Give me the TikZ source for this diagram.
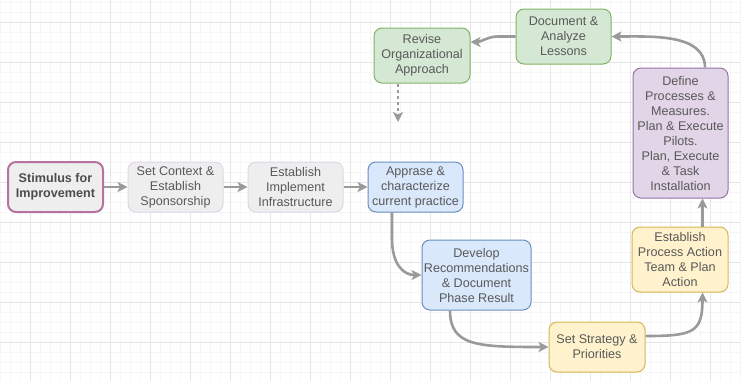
\documentclass[tikz,border=0pt]{standalone}
\usepackage{fontspec}
\setmainfont{Liberation Sans}
\usetikzlibrary{arrows.meta}
\definecolor{gridminor}{HTML}{F6F6F6}
\definecolor{gridmajor}{HTML}{E6E6E6}
\definecolor{txt}{HTML}{595959}
\definecolor{flowgray}{HTML}{9A9A9A}
\definecolor{greyfill}{HTML}{EEEEEE}
\definecolor{lavline}{HTML}{E1D5E7}
\definecolor{plumline}{HTML}{B5739D}
\definecolor{bluefill}{HTML}{DAE8FC}
\definecolor{blueline}{HTML}{6C8EBF}
\definecolor{yellowfill}{HTML}{FFF2CC}
\definecolor{yellowline}{HTML}{D6B656}
\definecolor{greenfill}{HTML}{D5E8D4}
\definecolor{greenline}{HTML}{82B366}
\definecolor{purplefill}{HTML}{E1D5E7}
\definecolor{purpleline}{HTML}{9673A6}
\tikzset{
  box/.style={rectangle, rounded corners=8pt, draw, line width=1pt, inner sep=0pt,
    align=center, text=txt, font=\fontsize{12.6}{15}\selectfont},
  greybox/.style={box, fill=greyfill, draw=lavline},
  startbox/.style={box, fill=greyfill, draw=plumline, line width=2pt,
    font=\fontsize{12.6}{15}\selectfont\bfseries, text=black!70},
  bluebox/.style={box, fill=bluefill, draw=blueline},
  yellowbox/.style={box, fill=yellowfill, draw=yellowline},
  greenbox/.style={box, fill=greenfill, draw=greenline},
  purplebox/.style={box, fill=purplefill, draw=purpleline},
  flow/.style={draw=flowgray, line width=2.6pt,
    -{Stealth[length=10pt, width=10pt, inset=2.5pt]}},
  dotflow/.style={flow, dash pattern=on 3pt off 3pt}
}
\begin{document}
\begin{tikzpicture}[x=1pt, y=-1pt]
  % canvas and grid
  \fill[white] (0,0) rectangle (741,381);
  \useasboundingbox (0,0) rectangle (741,381);
  \foreach \gx in {0,10,...,740} \draw[gridminor, line width=0.8pt] (\gx,0) -- (\gx,381);
  \foreach \gy in {2.5,12.5,...,381} \draw[gridminor, line width=0.8pt] (0,\gy) -- (741,\gy);
  \foreach \gx in {30,70,...,740} \draw[gridmajor, line width=1pt] (\gx,0) -- (\gx,381);
  \foreach \gy in {22.5,62.5,...,381} \draw[gridmajor, line width=1pt] (0,\gy) -- (741,\gy);

  % process steps
  \node[startbox, minimum width=95pt, minimum height=50pt] (stim) at (55.5,187) {Stimulus for\\Improvement};
  \node[greybox, minimum width=95pt, minimum height=50pt] (ctx) at (175.5,187) {Set Context \&\\Establish\\Sponsorship};
  \node[greybox, minimum width=95pt, minimum height=50pt] (infra) at (295.5,187) {Establish\\Implement\\Infrastructure};
  \node[bluebox, minimum width=95pt, minimum height=50pt] (appr) at (415.5,187) {Apprase \&\\characterize\\current practice};
  \node[bluebox, minimum width=109pt, minimum height=70pt] (dev) at (476.5,275) {Develop\\Recommendations\\\& Document\\Phase Result};
  \node[yellowbox, minimum width=96pt, minimum height=50pt] (strat) at (597,347) {Set Strategy \&\\Priorities};
  \node[yellowbox, minimum width=96pt, minimum height=65pt] (team) at (680,259.5) {Establish\\Process Action\\Team \& Plan\\Action};
  \node[purplebox, minimum width=95pt, minimum height=130pt] (def) at (680.5,133) {Define\\Processes \&\\Measures.\\Plan \& Execute\\Pilots.\\Plan, Execute\\\& Task\\Installation};
  \node[greenbox, minimum width=95pt, minimum height=55pt] (doc) at (563.5,36.5) {Document \&\\Analyze\\Lessons};
  \node[greenbox, minimum width=96pt, minimum height=55pt] (rev) at (422,55.5) {Revise\\Organizational\\Approach};
  \coordinate (revdown) at (398,122);

  % connectors
  \draw[flow] (stim) -- (ctx);
  \draw[flow] (ctx) -- (infra);
  \draw[flow] (infra) -- (appr);
  \draw[flow] ([xshift=-23.5pt]appr.south) -- ++(0,26)
    .. controls +(0,26) and +(-18,0) .. (dev.west);
  \draw[flow] ([xshift=-26.5pt]dev.south)
    .. controls +(0,36) and +(-70,0) .. (strat.west);
  \draw[flow] ([yshift=11pt]strat.east)
    .. controls +(48,0) and +(0,40) .. ([xshift=22.5pt]team.south);
  \draw[flow] ([xshift=22.5pt]team.north) -- ([xshift=22pt]def.south);
  \draw[flow] ([xshift=24.5pt]def.north)
    .. controls +(0,-34) and +(40,0) .. (doc.east);
  \draw[flow] (doc.west) -- ++(-18,0)
    .. controls +(-9,0) and +(10,0) .. ([yshift=13.5pt]rev.east);
  \draw[dotflow] ([xshift=-24pt]rev.south) -- (revdown);
\end{tikzpicture}
\end{document}
